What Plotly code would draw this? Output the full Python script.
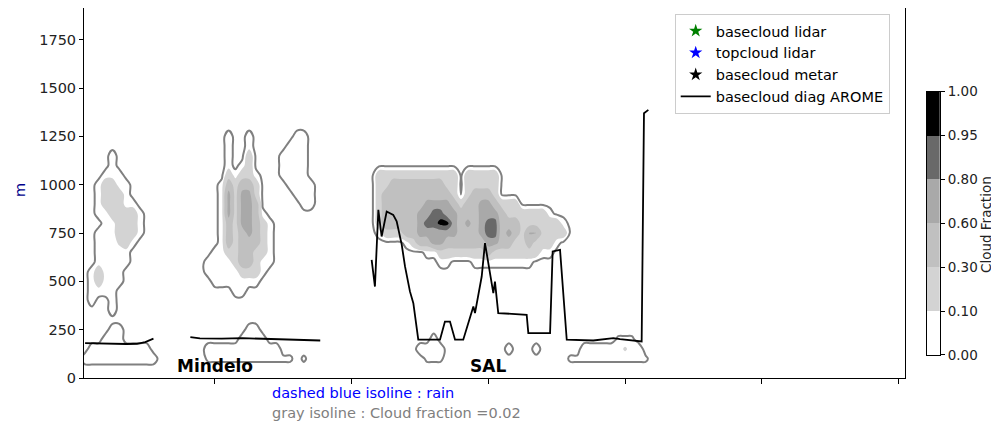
import numpy as np
import plotly.graph_objects as go

# ---- cloud fraction (AROME) along the section ----
# contourf levels and colours
levels = [0.0, 0.10, 0.30, 0.60, 0.80, 0.95, 1.00]
level_colors = ["#ffffff", "#d3d3d3", "#c0c0c0", "#a9a9a9", "#696969", "#000000"]
level_labels = ["0.00", "0.10", "0.30", "0.60", "0.80", "0.95", "1.00"]

# cloud fraction codes used in the hand-read field below
codes = {".": 0.0, "-": 0.03, "o": 0.05, "1": 0.12, "2": 0.20, "0": 0.20,
         "4": 0.45, "6": 0.62, "7": 0.70, "9": 0.88, "x": 1.0}

grid_x = np.round(np.arange(87) * 0.05, 3)      # section coordinate
grid_y = np.arange(0, 1450, 50)                  # height (m)

# height (m) -> list of (first column, codes)
cloud_rows = {
    1250: [(22, "o"), (25, "o"), (32, "oo")],
    1200: [(22, "o"), (25, "o"), (31, "ooo")],
    1150: [(5, "o"), (22, "o"), (25, "2"), (30, "oooo")],
    1100: [(5, "o"), (22, "o"), (24, "o2"), (30, "oooo")],
    1050: [(4, "ooo"), (22, "2o22o"), (30, "oooo"), (44, "222222222222.22222")],
    1000: [(3, "o22oo"), (21, "o42442"), (31, "oooo"), (44, "224444444422.22222")],
    950: [(3, "o222o"), (21, "o72772"), (32, "ooo"), (44, "244444444442.24442")],
    900: [(3, "o222oo"), (21, "o72774"), (33, "oo"), (44, "244444477774244774222")],
    850: [(3, "oo2222o"), (21, "o72774o"), (44, "2444447799774447774222222o")],
    800: [(4, "oo222o"), (21, "o427742o"), (44, "244444799xx7474799444222222o")],
    750: [(3, "ooo222o"), (21, "o424742o"), (44, "o222447777774447994742662220")],
    700: [(3, "ooo12o"), (21, "o424442o"), (48, "o244774444447744224222o")],
    650: [(3, "ooooo"), (20, "oo224422o"), (51, "oo222222242222222oo")],
    600: [(3, "ooooo"), (19, "oooo2442oo"), (53, "oo"), (58, "ooooooooo")],
    550: [(2, "o2ooo"), (19, "ooooo222o")],
    500: [(2, "o2ooo"), (20, "ooooooo")],
    450: [(2, "oooo"), (23, "oo")],
    400: [(2, "o"), (5, "o")],
    350: [(5, "o")],
    250: [(5, "oo"), (25, "oo")],
    200: [(4, "ooo"), (24, "oooo"), (52, "o"), (79, "---")],
    150: [(2, "ooooooooo"), (19, "ooooooooooo"), (50, "oooo"), (63, "o"),
          (67, "o"), (74, "oooooo1oo")],
    100: [(1, "ooooooooooo"), (19, "-------------"), (33, "-"), (51, "---"),
          (72, "------------")],
}

# ---- basecloud diag AROME (m), None = no cloud base ----
arome_x = [0.05, 0.15, 0.25, 0.35, 0.43, 0.49, 0.55, None,
           0.82, 0.89, 1.05, 1.20, 1.35, 1.50, 1.65, 1.77, None,
           2.146, 2.170, 2.195, 2.219, 2.256, 2.304, 2.329, 2.366, 2.390,
           2.426, 2.451, 2.487, 2.646, 2.682, 2.719, 2.756, 2.816, 2.865,
           2.890, 2.902, 2.951, 2.975, 3.012, 3.036, 3.048, 3.072, 3.280,
           3.292, 3.451, 3.470, 3.524, 3.573, 3.767, 3.914, 3.963, 4.121,
           4.138, 4.170]
arome_y = [180, 178, 177, 176, 177, 186, 204, None,
           211, 205, 204, 206, 203, 199, 196, 194, None,
           611, 473, 870, 732, 861, 844, 810, 690, 577,
           448, 387, 198, 198, 292, 292, 198, 198, 318,
           370, 336, 525, 698, 543, 439, 499, 336, 327,
           232, 232, 655, 663, 198, 194, 206, 201, 189,
           1370, 1387]

# observations (none in this window)
lidar_base_x, lidar_base_y = [None], [None]
lidar_top_x, lidar_top_y = [None], [None]
metar_base_x, metar_base_y = [None], [None]

sites = ["Mindelo", "SAL"]
site_x = [1, 3]

# ---- build field ----
cf = np.zeros((len(grid_y), len(grid_x)))
for h, runs in cloud_rows.items():
    j = int(h // 50)
    for c0, s in runs:
        for k, ch in enumerate(s):
            cf[j, c0 + k] = codes[ch]

fig = go.Figure()

# filled bands, one trace per level (non uniform levels)
for lev, col in zip(levels[1:-1], level_colors[1:]):
    fig.add_trace(go.Contour(
        x=grid_x, y=grid_y, z=cf, showscale=False, showlegend=False,
        contours=dict(start=lev, end=lev, size=1, coloring="fill"),
        colorscale=[[0, "rgba(0,0,0,0)"], [1, col]],
        line=dict(width=0, smoothing=1.0), hoverinfo="skip"))

# gray isoline cloud fraction = 0.02
fig.add_trace(go.Contour(
    x=grid_x, y=grid_y, z=cf, showscale=False, showlegend=False,
    contours=dict(start=0.02, end=0.02, size=1, coloring="none"),
    line=dict(color="gray", width=2, smoothing=1.0), hoverinfo="skip"))

fig.add_trace(go.Scatter(x=lidar_base_x, y=lidar_base_y, mode="markers",
                         marker=dict(symbol="star", size=10, color="green"),
                         name="basecloud lidar"))
fig.add_trace(go.Scatter(x=lidar_top_x, y=lidar_top_y, mode="markers",
                         marker=dict(symbol="star", size=10, color="blue"),
                         name="topcloud lidar"))
fig.add_trace(go.Scatter(x=metar_base_x, y=metar_base_y, mode="markers",
                         marker=dict(symbol="star", size=10, color="black"),
                         name="basecloud metar"))
fig.add_trace(go.Scatter(x=arome_x, y=arome_y, mode="lines",
                         line=dict(color="black", width=1.8),
                         name="basecloud diag AROME"))

# colorbar drawn as a small heatmap
fig.add_trace(go.Heatmap(
    x=[0], y=[i + 0.5 for i in range(len(level_colors))],
    z=[[i] for i in range(len(level_colors))],
    zmin=-0.5, zmax=len(level_colors) - 0.5,
    colorscale=[[k / len(level_colors) + d / len(level_colors), c]
                for k, c in enumerate(level_colors) for d in (0, 1)],
    showscale=False, xaxis="x2", yaxis="y2", hoverinfo="skip"))

annotations = [dict(x=x, y=0, xref="x", yref="y", text="<b>%s</b>" % s,
                    showarrow=False, xanchor="center", yanchor="bottom",
                    font=dict(size=17, color="black"))
               for s, x in zip(sites, site_x)]
annotations += [
    dict(x=0.2037, y=-0.0405, xref="paper", yref="paper", xanchor="left",
         yanchor="middle", text="dashed blue isoline : rain", showarrow=False,
         font=dict(size=14.5, color="blue")),
    dict(x=0.2037, y=-0.0946, xref="paper", yref="paper", xanchor="left",
         yanchor="middle", text="gray isoline : Cloud fraction =0.02",
         showarrow=False, font=dict(size=14.5, color="gray")),
    dict(x=-0.0701, y=0.508, xref="paper", yref="paper", text="m",
         xanchor="center", yanchor="middle", textangle=-90, showarrow=False,
         font=dict(size=14.5, color="darkblue")),
    dict(x=0.988, y=0.4135, xref="paper", yref="paper", text="Cloud Fraction",
         xanchor="center", yanchor="middle", textangle=-90, showarrow=False,
         font=dict(size=13.5, color="#222222")),
]

axis_style = dict(showgrid=False, zeroline=False, showline=True,
                  linecolor="black", linewidth=1, mirror=True,
                  tickcolor="black", automargin=False)

fig.update_layout(
    width=999, height=423,
    margin=dict(l=76, r=10, t=0, b=53, autoexpand=False),
    plot_bgcolor="white", paper_bgcolor="white",
    font=dict(family="DejaVu Sans", size=14.5, color="#222222"),
    xaxis=dict(domain=[0, 0.8992], range=[0.042, 6.047],
               tickvals=[1, 2, 3, 4, 5, 6], ticktext=[""] * 6,
               ticks="outside", ticklen=5, **axis_style),
    yaxis=dict(range=[0, 1914], tickvals=list(range(0, 2000, 250)),
               ticks="outside", ticklen=4, **axis_style),
    xaxis2=dict(domain=[0.9230, 0.9376], anchor="y2", range=[-0.5, 0.5],
                showticklabels=False, ticks="", **axis_style),
    yaxis2=dict(domain=[0.0622, 0.7738], anchor="x2", side="right",
                range=[0, len(level_colors)],
                tickvals=list(range(len(level_labels))), ticktext=level_labels,
                tickfont=dict(size=13.5),
                ticks="outside", ticklen=4, **axis_style),
    legend=dict(x=0.647, y=0.984, xanchor="left", yanchor="top",
                bgcolor="rgba(255,255,255,0.8)", bordercolor="#cccccc",
                borderwidth=1, font=dict(size=14.5, color="black")),
    annotations=annotations,
)

fig.write_html("out.html")
